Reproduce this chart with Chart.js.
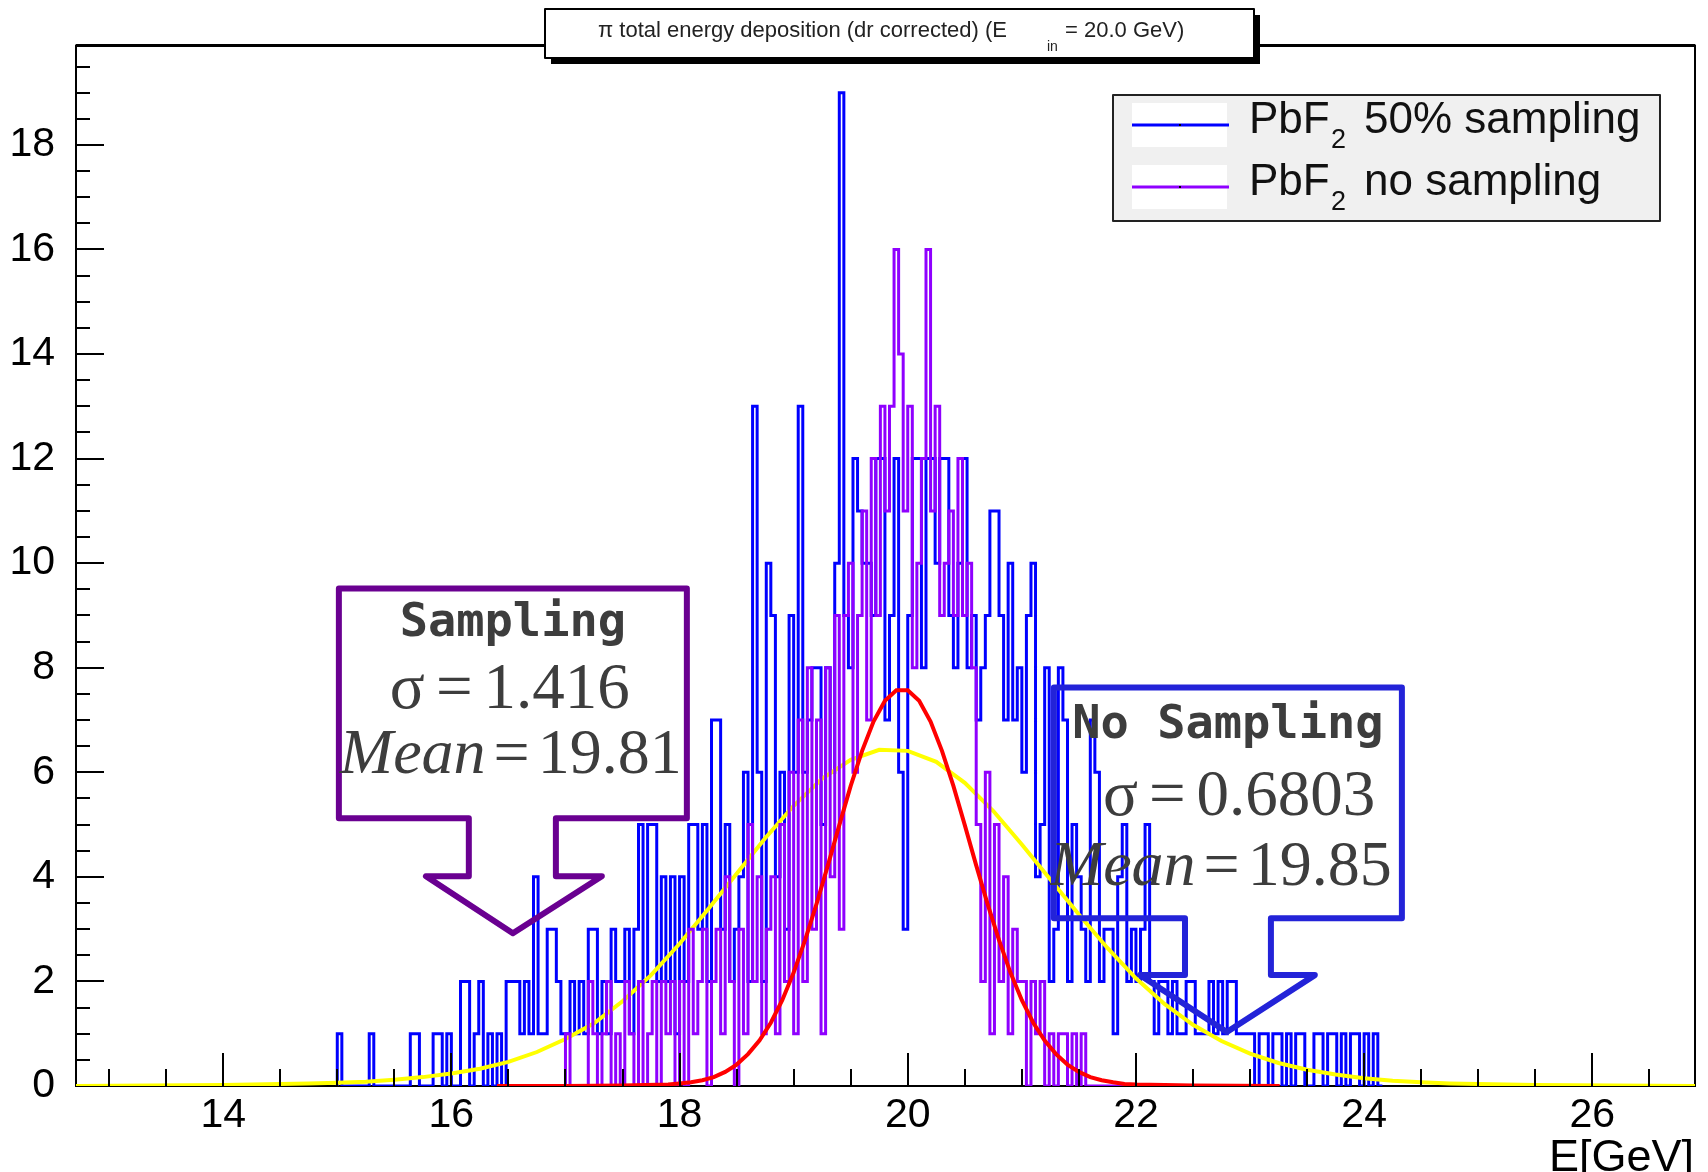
<!DOCTYPE html>
<html>
<head>
<meta charset="utf-8">
<title>pi total energy deposition</title>
<script src="https://cdn.jsdelivr.net/npm/chart.js@4.4.1/dist/chart.umd.min.js"></script>
<style>
  html, body { margin: 0; padding: 0; background: #fff; }
  canvas { display: block; }
</style>
</head>
<body>
<canvas id="chart" width="1708" height="1172"></canvas>
<script>
// histogram binning in GeV
const binWidth = 0.04;
const blueStart = 15.0;
const purpleStart = 17.0;

// PbF2 50% sampling, entries per bin (one row = 1 GeV)
const blueCounts = [
  1,0,0,0,0,0,0,1,0,0,0,0,0,0,0,0,1,1,0,0,0,1,1,0,1,
  0,0,2,2,0,1,2,0,1,0,1,0,2,2,2,1,2,1,4,1,1,3,3,2,1,
  1,2,1,2,1,3,3,1,2,1,3,2,2,3,1,3,5,2,5,5,2,4,2,4,1,
  4,2,5,5,3,5,2,7,7,3,5,2,3,4,6,2,13,6,2,10,9,4,6,3,9,
  6,13,6,7,8,8,5,8,6,10,19,9,8,12,11,10,10,9,12,12,7,9,12,6,3,
  9,12,12,8,12,12,10,12,12,9,8,10,12,8,9,7,8,9,11,11,9,7,10,7,8,
  6,9,10,4,5,8,2,3,8,7,2,5,4,3,2,7,6,2,3,3,1,4,5,2,3,
  2,3,5,2,1,2,2,1,2,1,1,2,2,1,1,1,2,1,2,1,2,2,1,1,1,
  1,0,1,1,0,1,1,0,1,0,1,1,0,0,1,1,0,1,1,0,1,0,1,1,0,
  1,0,1,0
];

// PbF2 no sampling, entries per bin (one row = 1 GeV)
const purpleCounts = [
  1,0,0,0,0,2,1,0,1,2,0,1,0,2,1,0,2,0,1,2,0,2,1,2,0,
  2,0,3,1,2,3,0,2,3,1,4,2,0,3,1,5,2,4,1,3,4,1,5,2,6,
  1,7,2,8,3,7,1,8,4,9,3,9,10,6,9,11,7,12,9,13,11,13,16,14,11,
  13,8,10,12,16,11,13,9,10,11,9,12,9,10,8,5,2,6,1,5,2,4,1,3,2,
  2,0,2,1,2,0,1,0,1,1,0,1,0,1,0,0,0,0,0,0,0,0,0,0,0,
  0,0,0,0,0,0,0,0,0,0
];

// gaussian fit of the sampling histogram (yellow)
const yellowFitX = [12.71, 14.0, 14.25, 14.5, 14.75, 15.0, 15.25, 15.5, 15.75, 16.0, 16.25, 16.5, 16.75,
  17.0, 17.25, 17.5, 17.75, 18.0, 18.25, 18.5, 18.75, 19.0, 19.25, 19.5, 19.75, 20.0, 20.25, 20.5,
  20.75, 21.0, 21.25, 21.5, 21.75, 22.0, 22.25, 22.5, 22.75, 23.0, 23.25, 23.5, 23.75, 24.0, 24.25,
  24.5, 24.75, 25.0, 25.25, 25.5, 26.9];
const yellowFitY = [0, 0.02, 0.03, 0.04, 0.05, 0.06, 0.08, 0.12, 0.17, 0.24, 0.33, 0.46, 0.65,
  0.9, 1.2, 1.62, 2.12, 2.72, 3.38, 4.06, 4.74, 5.36, 5.88, 6.24, 6.43, 6.41, 6.2, 5.8,
  5.26, 4.62, 3.95, 3.28, 2.64, 2.06, 1.57, 1.17, 0.86, 0.62, 0.44, 0.31, 0.22, 0.15, 0.1,
  0.07, 0.05, 0.04, 0.03, 0.02, 0];

// gaussian fit of the no-sampling histogram (red)
const redFitX = [16.4, 17.0, 17.5, 17.9, 18.0, 18.1, 18.2, 18.3, 18.4, 18.5, 18.6, 18.7, 18.8, 18.9,
  19.0, 19.1, 19.2, 19.3, 19.4, 19.5, 19.6, 19.7, 19.8, 19.9, 20.0, 20.1, 20.2, 20.3, 20.4, 20.5,
  20.6, 20.7, 20.8, 20.9, 21.0, 21.1, 21.2, 21.3, 21.4, 21.5, 21.6, 21.7, 21.8, 21.9, 22.0, 22.5, 23.26];
const redFitY = [0, 0, 0.01, 0.03, 0.05, 0.07, 0.11, 0.17, 0.27, 0.41, 0.61, 0.87, 1.21, 1.64,
  2.17, 2.79, 3.48, 4.22, 4.99, 5.74, 6.41, 6.97, 7.37, 7.57, 7.57, 7.37, 6.97, 6.41, 5.74, 4.99,
  4.22, 3.48, 2.79, 2.17, 1.64, 1.21, 0.87, 0.61, 0.41, 0.27, 0.17, 0.11, 0.07, 0.04, 0.03, 0.01, 0];

const xTicks = [14, 16, 18, 20, 22, 24, 26];
const yTicks = [0, 2, 4, 6, 8, 10, 12, 14, 16, 18];

// callouts in data units: box, stem and arrow tip
const callouts = [
  { color: '#6a0091', title: 'Sampling', sigma: '1.416', mean: '19.81',
    left: 15.014, right: 18.064, top: 9.515, bottom: 5.12,
    stemL: 16.153, stemR: 16.916, stemBottom: 4.012, wingL: 15.777, wingR: 17.319,
    tipX: 16.539, tipY: 2.923, titleDy: 47, sigmaDy: 119, meanDy: 184, sigmaDx: 51, meanDx: 1 },
  { color: '#2323d8', title: 'No Sampling', sigma: '0.6803', mean: '19.85',
    left: 21.281, right: 24.331, top: 7.623, bottom: 3.21,
    stemL: 22.43, stemR: 23.183, stemBottom: 2.121, wingL: 22.034, wingR: 23.568,
    tipX: 22.797, tipY: 1.032, titleDy: 51, sigmaDy: 128, meanDy: 198, sigmaDx: 49, meanDx: -4 }
];

function histPoints(start, counts) {
  const pts = [{ x: start, y: 0 }];
  counts.forEach((c, i) => pts.push({ x: start + (i + 1) * binWidth, y: c }));
  pts.push({ x: start + counts.length * binWidth, y: 0 });
  return pts;
}

function zip(xs, ys) {
  return xs.map((x, i) => ({ x: x, y: ys[i] }));
}

const framePlugin = {
  id: 'frame',
  beforeDatasetsDraw(chart) {
    const { ctx, chartArea: a } = chart;
    ctx.save();
    ctx.strokeStyle = '#000';
    ctx.lineWidth = 2;
    ctx.strokeRect(a.left, a.top, a.right - a.left, a.bottom - a.top);
    ctx.lineWidth = 3;
    ctx.beginPath();
    ctx.moveTo(a.left, a.top);
    ctx.lineTo(a.right, a.top);
    ctx.stroke();
    ctx.restore();
  },
  afterDatasetsDraw(chart) {
    const { ctx, chartArea: a, scales } = chart;
    const x = scales.x, y = scales.y;
    ctx.save();

    // inward tick marks, ROOT style
    ctx.strokeStyle = '#000';
    ctx.lineWidth = 2;
    ctx.beginPath();
    for (let v = 13; v <= 26.5; v += 0.5) {
      const px = Math.round(x.getPixelForValue(v));
      const len = v % 2 === 0 ? 33 : 17;
      ctx.moveTo(px, a.bottom);
      ctx.lineTo(px, a.bottom - len);
    }
    for (let v = 0.5; v <= 19.5; v += 0.5) {
      const py = Math.round(y.getPixelForValue(v));
      const len = v % 2 === 0 ? 28 : 14;
      ctx.moveTo(a.left, py);
      ctx.lineTo(a.left + len, py);
    }
    ctx.stroke();

    // callout arrows
    callouts.forEach(c => {
      const X = v => x.getPixelForValue(v), Y = v => y.getPixelForValue(v);
      ctx.strokeStyle = c.color;
      ctx.lineWidth = 6;
      ctx.lineJoin = 'round';
      ctx.beginPath();
      ctx.moveTo(X(c.left), Y(c.top));
      ctx.lineTo(X(c.right), Y(c.top));
      ctx.lineTo(X(c.right), Y(c.bottom));
      ctx.lineTo(X(c.stemR), Y(c.bottom));
      ctx.lineTo(X(c.stemR), Y(c.stemBottom));
      ctx.lineTo(X(c.wingR), Y(c.stemBottom));
      ctx.lineTo(X(c.tipX), Y(c.tipY));
      ctx.lineTo(X(c.wingL), Y(c.stemBottom));
      ctx.lineTo(X(c.stemL), Y(c.stemBottom));
      ctx.lineTo(X(c.stemL), Y(c.bottom));
      ctx.lineTo(X(c.left), Y(c.bottom));
      ctx.closePath();
      ctx.stroke();

      const bx = X(c.left), by = Y(c.top), cx = (X(c.left) + X(c.right)) / 2;
      ctx.fillStyle = '#3d3d3d';
      ctx.textBaseline = 'alphabetic';
      ctx.textAlign = 'center';
      ctx.font = 'bold 47px "DejaVu Sans Mono"';
      ctx.fillText(c.title, cx, by + c.titleDy);
      ctx.textAlign = 'left';
      let tx = bx + c.sigmaDx;
      ctx.font = '65px "Liberation Serif"';
      ctx.fillText('σ', tx, by + c.sigmaDy);
      tx += ctx.measureText('σ').width + 11;
      ctx.fillText('=', tx, by + c.sigmaDy);
      tx += ctx.measureText('=').width + 11;
      ctx.fillText(c.sigma, tx, by + c.sigmaDy);
      tx = bx + c.meanDx;
      ctx.font = 'italic 64px "Liberation Serif"';
      ctx.fillText('Mean', tx, by + c.meanDy);
      tx += ctx.measureText('Mean').width + 8;
      ctx.font = '64px "Liberation Serif"';
      ctx.fillText('=', tx, by + c.meanDy);
      tx += ctx.measureText('=').width + 8;
      ctx.fillText(c.mean, tx, by + c.meanDy);
    });

    // title box with shadow
    ctx.fillStyle = '#000';
    ctx.fillRect(551, 15, 709, 49);
    ctx.fillStyle = '#fff';
    ctx.fillRect(545, 9, 709, 49);
    ctx.strokeStyle = '#000';
    ctx.lineWidth = 2;
    ctx.strokeRect(545, 9, 709, 49);
    ctx.fillStyle = '#222';
    ctx.textAlign = 'left';
    ctx.font = '22px "Liberation Sans"';
    ctx.fillText('π total energy deposition (dr corrected) (E', 598, 37);
    ctx.fillText('= 20.0 GeV)', 1065, 37);
    ctx.font = '14px "Liberation Sans"';
    ctx.fillText('in', 1047, 51);

    // legend
    ctx.fillStyle = '#f0f0f0';
    ctx.fillRect(1113, 95, 547, 126);
    ctx.strokeStyle = '#222';
    ctx.strokeRect(1113, 95, 547, 126);
    const entries = [
      { color: '#0000ff', rest: '50% sampling', top: 103, base: 133 },
      { color: '#8f00ff', rest: 'no sampling', top: 165, base: 195 }
    ];
    entries.forEach(e => {
      ctx.fillStyle = '#fff';
      ctx.fillRect(1132, e.top, 95, 44);
      ctx.strokeStyle = e.color;
      ctx.lineWidth = 3;
      ctx.beginPath();
      ctx.moveTo(1132, e.top + 22);
      ctx.lineTo(1229, e.top + 22);
      ctx.stroke();
      ctx.fillStyle = '#000';
      ctx.fillRect(1179, e.top + 21, 2, 2);
      ctx.fillStyle = '#111';
      ctx.font = '44px "Liberation Sans"';
      ctx.fillText('PbF', 1249, e.base);
      ctx.font = '27px "Liberation Sans"';
      ctx.fillText('2', 1331, e.base + 15);
      ctx.font = '44px "Liberation Sans"';
      ctx.fillText(e.rest, 1364, e.base);
    });

    // axis title
    ctx.fillStyle = '#000';
    ctx.textAlign = 'right';
    ctx.font = '45px "Liberation Sans"';
    ctx.fillText('E[GeV]', 1694, 1171);
    ctx.restore();
  }
};

new Chart(document.getElementById('chart').getContext('2d'), {
  type: 'line',
  data: {
    datasets: [
      { label: 'no sampling fit', data: zip(redFitX, redFitY),
        borderColor: '#ff0000', borderWidth: 4, pointRadius: 0, fill: false },
      { label: 'PbF2 no sampling', data: histPoints(purpleStart, purpleCounts), stepped: 'after',
        borderColor: '#8f00ff', borderWidth: 3, pointRadius: 0, fill: false },
      { label: 'sampling fit', data: zip(yellowFitX, yellowFitY),
        borderColor: '#ffff00', borderWidth: 4, pointRadius: 0, fill: false },
      { label: 'PbF2 50% sampling', data: histPoints(blueStart, blueCounts), stepped: 'after',
        borderColor: '#0000ff', borderWidth: 3, pointRadius: 0, fill: false }
    ]
  },
  options: {
    responsive: false,
    animation: false,
    devicePixelRatio: 1,
    events: [],
    layout: { padding: { left: 0, right: 13, top: 44, bottom: 0 } },
    plugins: {
      legend: { display: false },
      tooltip: { enabled: false },
      title: { display: false }
    },
    scales: {
      x: {
        type: 'linear', min: 12.71, max: 26.9,
        grid: { display: false, drawTicks: false },
        border: { display: false },
        afterBuildTicks: s => { s.ticks = xTicks.map(v => ({ value: v })); },
        afterFit: s => { s.height = 86; },
        ticks: { autoSkip: false, maxRotation: 0, padding: 5, color: '#000',
          font: { family: 'Liberation Sans', size: 41 } }
      },
      y: {
        type: 'linear', min: 0, max: 19.9,
        grid: { display: false, drawTicks: false },
        border: { display: false },
        afterBuildTicks: s => { s.ticks = yTicks.map(v => ({ value: v })); },
        afterFit: s => { s.width = 76; },
        ticks: { padding: 21, color: '#000',
          font: { family: 'Liberation Sans', size: 41 } }
      }
    }
  },
  plugins: [framePlugin]
});
</script>
</body>
</html>
